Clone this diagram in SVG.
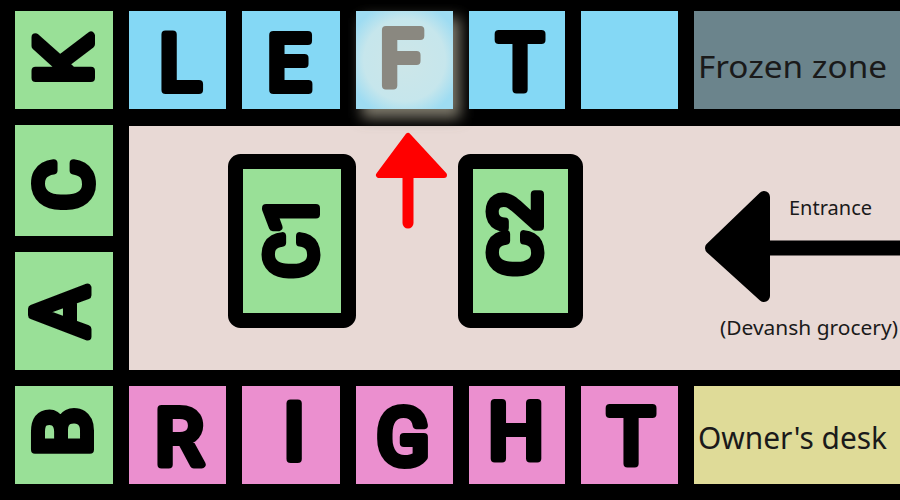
<svg xmlns="http://www.w3.org/2000/svg" width="900" height="500" viewBox="0 0 900 500">
<style>
.g{fill:#99e097}.b{fill:#84d8f5}.p{fill:#eb8fcf}
.L{font-family:Roboto,Lato,"DejaVu Sans",sans-serif;font-weight:400;font-size:78px;fill:#000;stroke:#000;stroke-width:8;stroke-linejoin:round;stroke-linecap:round;text-anchor:middle;dominant-baseline:central}
.t{font-family:"Noto Sans","DejaVu Sans",sans-serif;fill:#1a1a1a}
</style>
<defs>
<filter id="blur" x="-50%" y="-50%" width="200%" height="200%"><feGaussianBlur stdDeviation="7"/></filter>
<radialGradient id="fg" cx="0.5" cy="0.5" r="0.6"><stop offset="0" stop-color="#cde6e8"/><stop offset="0.7" stop-color="#c6e6ec"/><stop offset="1" stop-color="#9edcf2"/></radialGradient>
</defs>
<rect width="900" height="500" fill="#000"/>
<rect x="129" y="126" width="771" height="244" fill="#e8d9d5"/>
<g id="K"><rect class="g" x="15" y="11" width="98" height="98"/><text class="L" transform="translate(64,60) rotate(-90)">K</text></g>
<g id="C"><rect class="g" x="15" y="125" width="98" height="111"/><text class="L" transform="translate(64,185) rotate(-90)">C</text></g>
<g id="A"><rect class="g" x="15" y="252" width="98" height="118"/><text class="L" transform="translate(61,312) rotate(-90)">A</text></g>
<g id="B"><rect class="g" x="15" y="386" width="98" height="98"/><text class="L" transform="translate(63,432) rotate(-90)">B</text></g>
<g id="L1"><rect class="b" x="129" y="11" width="97" height="98"/><text class="L" x="180" y="63">L</text></g>
<g id="E1"><rect class="b" x="242" y="11" width="98" height="98"/><text class="L" x="289" y="63">E</text></g>
<g id="F1"><rect x="362" y="18" width="98" height="100" fill="#7d786a" filter="url(#blur)"/><rect x="356" y="11" width="97" height="98" fill="url(#fg)"/><text class="L" x="401" y="59" style="fill:#8a8880;stroke:#8a8880">F</text></g>
<g id="T1"><rect class="b" x="469" y="11" width="96" height="98"/><text class="L" x="520" y="62">T</text></g>
<g id="blank"><rect class="b" x="581" y="11" width="97" height="98"/></g>
<g id="frozen"><rect x="694" y="11" width="206" height="98" fill="#6b848c"/><text class="t" x="698" y="78" font-size="31" textLength="189" lengthAdjust="spacingAndGlyphs">Frozen zone</text></g>
<g id="R"><rect class="p" x="129" y="386" width="97" height="98"/><text class="L" x="179" y="437">R</text></g>
<g id="I"><rect class="p" x="242" y="386" width="98" height="98"/><text class="L" x="294" y="432">I</text></g>
<g id="G"><rect class="p" x="356" y="386" width="97" height="98"/><text class="L" x="403" y="437">G</text></g>
<g id="H"><rect class="p" x="469" y="386" width="96" height="98"/><text class="L" x="516" y="432">H</text></g>
<g id="T2"><rect class="p" x="581" y="386" width="97" height="98"/><text class="L" x="631" y="436">T</text></g>
<g id="owner"><rect x="694" y="386" width="206" height="98" fill="#dfdb98"/><text class="t" x="698" y="449" font-size="31" textLength="189" lengthAdjust="spacingAndGlyphs">Owner's desk</text></g>
<g id="C1"><rect x="235.5" y="161.5" width="113" height="159" rx="5" fill="#99e097" stroke="#000" stroke-width="15"/><text class="L" transform="translate(292,236) rotate(-90)" style="font-size:70px">C1</text></g>
<g id="C2"><rect x="465.5" y="161.5" width="110" height="159" rx="5" fill="#99e097" stroke="#000" stroke-width="15"/><text class="L" transform="translate(516,234) rotate(-90)" style="font-size:70px">C2</text></g>
<g id="connectors">
<g id="red-arrow"><line x1="408" y1="176" x2="408" y2="223" stroke="#ff0000" stroke-width="11" stroke-linecap="round"/><polygon points="408,136 379,175 444,175" fill="#ff0000" stroke="#ff0000" stroke-width="6" stroke-linejoin="round"/></g>
<g id="entrance-arrow"><line x1="760" y1="248" x2="905" y2="248" stroke="#000" stroke-width="15"/><polygon points="711,248 764,197 764,296" fill="#000" stroke="#000" stroke-width="12" stroke-linejoin="round"/></g>
</g>
<text class="t" x="789" y="215" font-size="20" fill="#333">Entrance</text>
<text class="t" x="720" y="335" font-size="20" fill="#333" textLength="178" lengthAdjust="spacingAndGlyphs">(Devansh grocery)</text>
</svg>
